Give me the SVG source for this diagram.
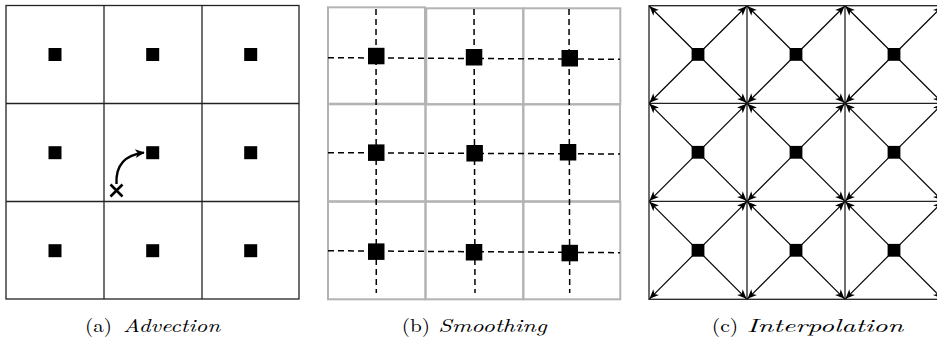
<svg xmlns="http://www.w3.org/2000/svg" width="937" height="339" viewBox="0 0 937 339">
<style>
.grid{fill:none;stroke:#222;stroke-width:1.3}
.ggrid{fill:none;stroke:#b3b3b3;stroke-width:2}
.sq{fill:#000}
.dash{fill:none;stroke:#000;stroke-width:1.5;stroke-dasharray:6 4}
.arr{fill:none;stroke:#000;stroke-width:1.2;marker-end:url(#head)}
.cap{font-family:"Latin Modern Roman","Liberation Serif",serif;font-size:18px;fill:#000}
.it{font-style:italic}
</style>
<defs>
<marker id="head" markerUnits="userSpaceOnUse" markerWidth="12" markerHeight="10" viewBox="-8 -4 9 8" refX="0" refY="0" orient="auto">
<path d="M0,0 L-7.5,-3.2 L-5.5,0 L-7.5,3.2 Z" fill="#000"/>
</marker>
<marker id="head2" markerUnits="userSpaceOnUse" markerWidth="12" markerHeight="10" viewBox="-8 -4 9 8" refX="0" refY="0" orient="auto">
<path d="M0.5,0 L-7,-3.5 L-5,0 L-7,3.5 Z" fill="#000"/>
</marker>
</defs>

<!-- Panel (a) Advection -->
<g id="panel-a">
<g id="a-grid">
<rect class="grid" x="6" y="5.5" width="293" height="293.5"/>
<line class="grid" x1="104" y1="5.5" x2="104" y2="299"/>
<line class="grid" x1="202" y1="5.5" x2="202" y2="299"/>
<line class="grid" x1="6" y1="103.5" x2="299" y2="103.5"/>
<line class="grid" x1="6" y1="201.5" x2="299" y2="201.5"/>
</g>
<g id="a-nodes">
<rect class="sq" x="48.5" y="48" width="13" height="13"/>
<rect class="sq" x="146.2" y="48" width="13" height="13"/>
<rect class="sq" x="244.2" y="48" width="13" height="13"/>
<rect class="sq" x="48.5" y="146.2" width="13" height="13"/>
<rect class="sq" x="146.2" y="146.2" width="13" height="13"/>
<rect class="sq" x="244.2" y="146.2" width="13" height="13"/>
<rect class="sq" x="48.5" y="244.2" width="13" height="13"/>
<rect class="sq" x="146.2" y="244.2" width="13" height="13"/>
<rect class="sq" x="244.2" y="244.2" width="13" height="13"/>
</g>
<g id="a-connectors">
<path d="M116.5,184 C115.5,166 124,155 144,152.6" fill="none" stroke="#000" stroke-width="2.4" marker-end="url(#head2)"/>
<path d="M110.5,184.5 L122.5,196.5 M122.5,184.5 L110.5,196.5" fill="none" stroke="#000" stroke-width="2.6"/>
</g>
</g>

<!-- Panel (b) Smoothing -->
<g id="panel-b">
<g id="b-grid">
<rect class="ggrid" x="328" y="7.3" width="97" height="96.4"/>
<rect class="ggrid" x="426.3" y="8.3" width="97" height="96"/>
<rect class="ggrid" x="523.3" y="8.3" width="97" height="96"/>
<rect class="ggrid" x="328" y="104.3" width="97.5" height="97"/>
<rect class="ggrid" x="425.5" y="104.3" width="97.8" height="97"/>
<rect class="ggrid" x="523.3" y="104.3" width="96.7" height="97"/>
<rect class="ggrid" x="328" y="201.7" width="97.5" height="97.6"/>
<rect class="ggrid" x="425.5" y="201.7" width="97.8" height="97.6"/>
<rect class="ggrid" x="523.3" y="201.7" width="97" height="97.6"/>
</g>
<g id="b-connectors">
<line class="dash" x1="328" y1="57.7" x2="620" y2="59.3"/>
<line class="dash" x1="328" y1="152.7" x2="620" y2="154"/>
<line class="dash" x1="328" y1="250.7" x2="620" y2="252.7"/>
<line class="dash" x1="376" y1="9" x2="376.3" y2="293"/>
<line class="dash" x1="474" y1="9" x2="475" y2="293"/>
<line class="dash" x1="569" y1="9" x2="569.7" y2="293"/>
</g>
<g id="b-nodes">
<rect class="sq" x="368" y="47.8" width="16.5" height="16.5"/>
<rect class="sq" x="465.8" y="49" width="16.5" height="16.5"/>
<rect class="sq" x="561.5" y="50" width="16.5" height="16.5"/>
<rect class="sq" x="368" y="144.4" width="16.5" height="16.5"/>
<rect class="sq" x="466.4" y="145" width="16.5" height="16.5"/>
<rect class="sq" x="559.8" y="144" width="16.5" height="16.5"/>
<rect class="sq" x="368" y="243.4" width="16.5" height="16.5"/>
<rect class="sq" x="465.8" y="244" width="16.5" height="16.5"/>
<rect class="sq" x="561.5" y="244.8" width="16.5" height="16.5"/>
</g>
</g>

<!-- Panel (c) Interpolation -->
<g id="panel-c">
<g id="c-grid">
<rect class="grid" x="649" y="5.7" width="294" height="293.6" stroke-width="1.5"/>
<line class="grid" x1="747" y1="5.7" x2="747" y2="299.3" stroke-width="1.5"/>
<line class="grid" x1="845" y1="5.7" x2="845" y2="299.3" stroke-width="1.5"/>
<line class="grid" x1="649" y1="103.3" x2="943" y2="103.3" stroke-width="1.5"/>
<line class="grid" x1="649" y1="201.3" x2="943" y2="201.3" stroke-width="1.5"/>
</g>
<g id="c-connectors">
<path class="arr" d="M698,54.5 L649.5,6.2"/><path class="arr" d="M698,54.5 L746.5,6.2"/><path class="arr" d="M698,54.5 L649.5,102.8"/><path class="arr" d="M698,54.5 L746.5,102.8"/>
<path class="arr" d="M796,54.5 L747.5,6.2"/><path class="arr" d="M796,54.5 L844.5,6.2"/><path class="arr" d="M796,54.5 L747.5,102.8"/><path class="arr" d="M796,54.5 L844.5,102.8"/>
<path class="arr" d="M894,54.5 L845.5,6.2"/><path class="arr" d="M894,54.5 L942.5,6.2"/><path class="arr" d="M894,54.5 L845.5,102.8"/><path class="arr" d="M894,54.5 L942.5,102.8"/>
<path class="arr" d="M698,152.3 L649.5,103.8"/><path class="arr" d="M698,152.3 L746.5,103.8"/><path class="arr" d="M698,152.3 L649.5,200.8"/><path class="arr" d="M698,152.3 L746.5,200.8"/>
<path class="arr" d="M796,152.3 L747.5,103.8"/><path class="arr" d="M796,152.3 L844.5,103.8"/><path class="arr" d="M796,152.3 L747.5,200.8"/><path class="arr" d="M796,152.3 L844.5,200.8"/>
<path class="arr" d="M894,152.3 L845.5,103.8"/><path class="arr" d="M894,152.3 L942.5,103.8"/><path class="arr" d="M894,152.3 L845.5,200.8"/><path class="arr" d="M894,152.3 L942.5,200.8"/>
<path class="arr" d="M698,250.3 L649.5,201.8"/><path class="arr" d="M698,250.3 L746.5,201.8"/><path class="arr" d="M698,250.3 L649.5,298.8"/><path class="arr" d="M698,250.3 L746.5,298.8"/>
<path class="arr" d="M796,250.3 L747.5,201.8"/><path class="arr" d="M796,250.3 L844.5,201.8"/><path class="arr" d="M796,250.3 L747.5,298.8"/><path class="arr" d="M796,250.3 L844.5,298.8"/>
<path class="arr" d="M894,250.3 L845.5,201.8"/><path class="arr" d="M894,250.3 L942.5,201.8"/><path class="arr" d="M894,250.3 L845.5,298.8"/><path class="arr" d="M894,250.3 L942.5,298.8"/>
</g>
<g id="c-nodes">
<rect class="sq" x="691.6" y="48" width="12.8" height="12.8"/>
<rect class="sq" x="789.6" y="48" width="12.8" height="12.8"/>
<rect class="sq" x="887.6" y="48" width="12.8" height="12.8"/>
<rect class="sq" x="691.6" y="145.9" width="12.8" height="12.8"/>
<rect class="sq" x="789.6" y="145.9" width="12.8" height="12.8"/>
<rect class="sq" x="887.6" y="145.9" width="12.8" height="12.8"/>
<rect class="sq" x="691.6" y="243.9" width="12.8" height="12.8"/>
<rect class="sq" x="789.6" y="243.9" width="12.8" height="12.8"/>
<rect class="sq" x="887.6" y="243.9" width="12.8" height="12.8"/>
</g>
</g>

<!-- Captions -->
<g id="captions">
<text class="cap" y="331.5"><tspan x="85" textLength="27" lengthAdjust="spacingAndGlyphs">(a)</tspan> <tspan class="it" x="123" textLength="97" lengthAdjust="spacingAndGlyphs">Advection</tspan></text>
<text class="cap" y="331.5"><tspan x="401.7" textLength="28.3" lengthAdjust="spacingAndGlyphs">(b)</tspan> <tspan class="it" x="438.3" textLength="108.4" lengthAdjust="spacingAndGlyphs">Smoothing</tspan></text>
<text class="cap" y="331.5"><tspan x="711.7" textLength="26.6" lengthAdjust="spacingAndGlyphs">(c)</tspan> <tspan class="it" x="746.7" textLength="156.6" lengthAdjust="spacingAndGlyphs">Interpolation</tspan></text>
</g>
</svg>
